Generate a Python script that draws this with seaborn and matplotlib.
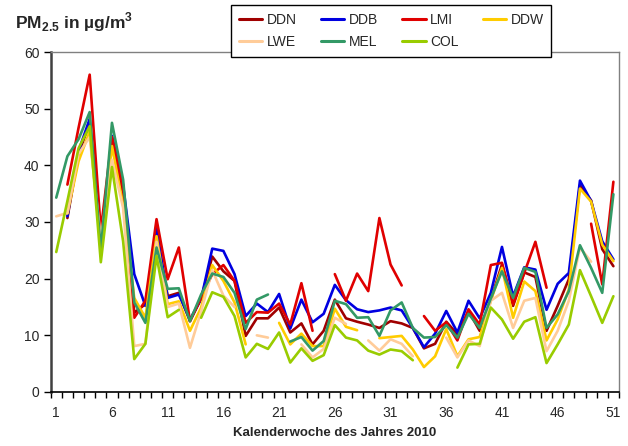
import numpy as np
import pandas as pd
import seaborn as sns
import matplotlib.pyplot as plt

nan = np.nan
weeks = list(range(1, 52))

ddn = [nan, 30.7, 42, 47.5, 27, 44, 35, 14, 15.5, 28, 16.9, 17.5, 12.5, 16.5, 23.9, 21.3, 19.6, 9.9, 13.0, 13.0,
       14.9, 10.5, 12.1, 8.4, 10.8, 16.3, 13.0, 12.4, 11.9, 11.3, 12.5, 12.1, 11.3, 7.7, 8.5, 12.4, 10.2, 14.3, 10.8, 16.3,
       22.5, 15.2, 21.1, 20.3, 10.8, 15.2, 19.9, 36.5, 33.8, 25.2, 22.2]
ddb = [nan, 31, 42.5, 48.2, 26, 45.2, 36.5, 20.8, 15.2, 29, 16.6, 17.2, 12.8, 16.4, 25.3, 24.9, 20.8, 13.4, 15.6, 14.1,
       17.3, 11.2, 16.3, 12.3, 13.8, 18.9, 16.2, 14.6, 14.1, 14.4, 14.9, 14.4, 11.3, 7.9, 10.3, 14.3, 10.5, 16.1, 13.0, 17.5,
       25.6, 16.9, 22.0, 21.6, 14.5, 19.1, 21.0, 37.3, 33.7, 26.6, 23.4]
lmi = [nan, 36.6, 46.6, 56, 28.5, 45, 36, 13.1, 16.1, 30.5, 19.9, 25.5, 12.5, 16.6, 20.8, 22.4, 19.6, 12.2, 14.1, 14.0,
       15.6, 11.9, 19.2, 10.8, nan, 20.8, 16.1, 20.9, 17.8, 30.7, 22.5, 18.8, nan, 13.4, 10.8, 12.3, 9.1, 14.6, 11.9, 22.4,
       22.8, 15.5, 21.0, 26.5, 18.4, nan, nan, nan, 29.7, 19.0, 37.1]
ddw = [nan, 31.5, 40.7, 46, 25.5, 43.4, 33, 16.6, 13.1, 27.5, 15.5, 16, 10.8, 14.9, 22.4, 19.6, 15.8, 8.4, nan, nan,
       12.2, 8.4, 10.3, 8.1, 8.1, 14.7, 11.5, 10.9, nan, 9.5, 9.7, 9.9, 7.5, 4.4, 6.3, 11.1, 6.3, 9.3, 9.7, 16.1,
       21.9, 13.1, 19.5, 17.8, 9.1, 12.8, 18.1, 35.9, 33.6, 26.0, 23.1]
lwe = [31, 31.6, 42, 45, 27, 41, 32.5, 8.1, 8.5, 26.5, 15, 15.6, 7.8, 14.2, 21.5, 17, 15, nan, 10.0, 9.6,
       nan, nan, 8.4, 6.1, 7.6, 13.1, 12.0, nan, 9.1, 7.3, 9.3, 8.5, 6.3, nan, nan, 9.6, 6.1, 9.1, 8.1, 16.1,
       17.5, 11.3, 16.1, 16.6, 7.2, 10.8, 16.1, 25.5, 23, nan, nan]
mel = [34.3, 41.6, 44.6, 49.4, 25, 47.5, 37.5, 15.8, 12.2, 25.5, 18.2, 18.3, 12.5, 17.2, 20.9, 20.3, 17.5, 11.1, 16.3, 17.2,
       nan, 8.9, 9.7, 7.3, 9.0, 16.1, 15.5, 13.1, 13.2, 9.9, 14.4, 15.8, 11.3, 9.6, 9.7, 11.8, 9.6, 13.8, 11.3, 16.5,
       21.3, 16.6, 21.9, 21.2, 11.3, 13.7, 17.8, 25.9, 21.9, 17.5, 34.9]
col = [24.7, 33.7, 43, 46.9, 22.9, 39.7, 26.6, 5.8, 8.5, 24, 13.2, 14.5, nan, 13.1, 17.6, 16.8, 13.4, 6.1, 8.5, 7.6,
       10.5, 5.2, 7.7, 5.5, 6.5, 11.8, 9.6, 9.1, 7.3, 6.6, 7.5, 7.2, 5.6, nan, nan, nan, 4.3, 8.4, 8.5, 14.9,
       12.8, 9.4, 12.4, 13.2, 5.1, 8.4, 11.9, 21.5, 16.9, 12.2, 16.9]

stations = ["DDN", "DDB", "LMI", "DDW", "LWE", "MEL", "COL"]
series = [ddn, ddb, lmi, ddw, lwe, mel, col]
colors = ["#A00000", "#0000E0", "#E00000", "#FFCC00", "#FFCC99", "#339966", "#99CC00"]

frames = []
for name, vals in zip(stations, series):
    d = pd.DataFrame({"week": weeks, "pm": vals, "station": name})
    # gaps in the series split the line into separate pieces
    d["seg"] = d["pm"].isna().cumsum()
    frames.append(d.dropna())
df = pd.concat(frames, ignore_index=True)
df["unit"] = df["station"] + "_" + df["seg"].astype(str)

sns.set_style("white")
plt.rcParams["font.family"] = ["Liberation Sans", "DejaVu Sans"]
plt.rcParams["mathtext.fontset"] = "custom"
plt.rcParams["mathtext.bf"] = "Liberation Sans:bold"
plt.rcParams["mathtext.rm"] = "Liberation Sans"

fig = plt.figure(figsize=(6.28, 4.46), dpi=100)
ax = fig.add_axes([0.0807, 0.1211, 0.9049, 0.7623])

sns.lineplot(data=df, x="week", y="pm", hue="station", units="unit", estimator=None,
             hue_order=stations, palette=dict(zip(stations, colors)), linewidth=1.9,
             legend=False, ax=ax)

ax.set_xlim(0.5, 51.5)
ax.set_ylim(0, 60)
ax.set_yticks(range(0, 61, 10))
ax.set_xticks(np.arange(0.5, 52, 1))
ax.set_xticklabels([])
ax.set_xticks(range(1, 52, 5), minor=True)
ax.set_xticklabels([str(w) for w in range(1, 52, 5)], minor=True)
ax.tick_params(axis="x", which="major", direction="out", length=4, width=1, color="black", bottom=True)
ax.tick_params(axis="x", which="minor", length=0, labelsize=10, pad=10, bottom=True)
ax.tick_params(axis="y", direction="out", length=5, width=1, color="black", labelsize=10, left=True, pad=3)

ax.spines["left"].set_color("#404040")
ax.spines["left"].set_linewidth(1.8)
ax.spines["bottom"].set_color("black")
ax.spines["bottom"].set_linewidth(1.2)
ax.spines["top"].set_color("#808080")
ax.spines["right"].set_color("#808080")
ax.spines["top"].set_linewidth(1)
ax.spines["right"].set_linewidth(1)

ax.set_xlabel("Kalenderwoche des Jahres 2010", fontsize=9.5, fontweight="bold", labelpad=5)
ax.set_ylabel("")

fig.text(0.024, 0.937, r"PM$_{\mathbf{2.5}}$ in µg/m$^{\mathbf{3}}$", fontsize=12.5, fontweight="bold", va="baseline")

handles = [plt.Line2D([], [], color=c, lw=2.2) for c in colors]
order = [0, 4, 1, 5, 2, 6, 3]
leg = fig.legend([handles[i] for i in order], [stations[i] for i in order], ncol=4,
                 loc="upper left", bbox_to_anchor=(0.368, 0.989), borderaxespad=0, frameon=True, fancybox=False,
                 edgecolor="black", framealpha=1, fontsize=10, handlelength=1.7, handletextpad=0.3,
                 columnspacing=1.75, borderpad=0.55, labelspacing=0.6)
leg.get_frame().set_linewidth(1)

fig.savefig("out.png", dpi=100)
